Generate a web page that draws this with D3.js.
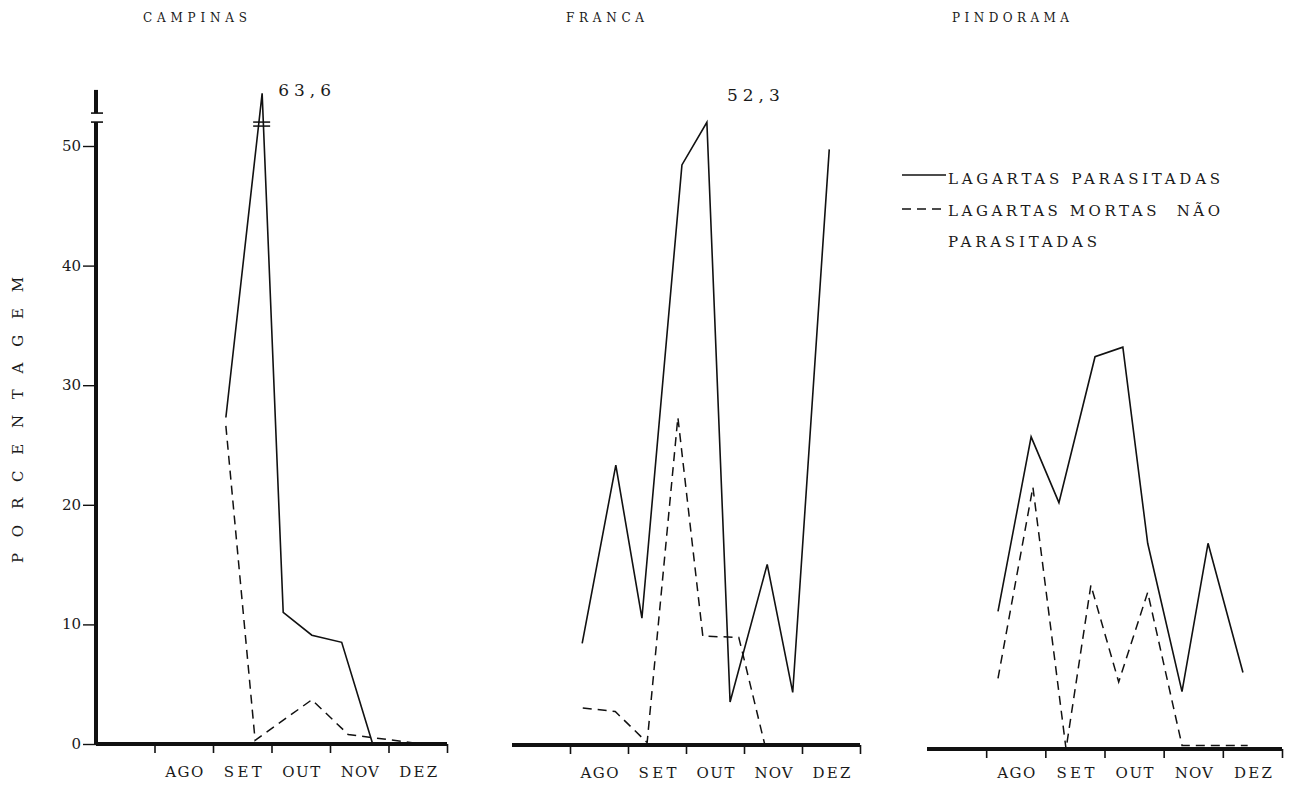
<!DOCTYPE html>
<html>
<head>
<meta charset="utf-8">
<script src="https://cdn.jsdelivr.net/npm/d3@7"></script>
<style>
    body { margin: 0; background: #fff; }
    svg text { font-family: "DejaVu Serif", "Liberation Serif", serif; fill: #1a1a1a; }
</style>
</head>
<body>
<div id="chart"></div>
<script>
// month labels under the axis (first slot has no label)
var months = ["AGO", "SET", "OUT", "NOV", "DEZ"];
var yTicks = [0, 10, 20, 30, 40, 50];

// x = position in month units (0 = start of the axis, 1 = start of AGO)
var campinasParasX = [2.22, 2.84, 3.2, 3.69, 4.2, 4.73];
var campinasParas = [27.3, 63.6, 11.0, 9.1, 8.5, 0];
var campinasMortasX = [2.22, 2.72, 3.69, 4.31, 5.57];
var campinasMortas = [26.6, 0.3, 3.7, 0.8, 0];

var francaParasX = [1.21, 1.79, 2.24, 2.93, 3.36, 3.76, 4.40, 4.84, 5.47];
var francaParas = [8.5, 23.4, 10.6, 48.5, 52.3, 3.6, 15.1, 4.4, 49.8];
var francaMortasX = [1.22, 1.78, 2.33, 2.86, 3.29, 3.91, 4.36];
var francaMortas = [3.1, 2.8, 0.2, 27.4, 9.1, 9.0, 0];

var pindoParasX = [1.20, 1.76, 2.23, 2.84, 3.31, 3.73, 4.31, 4.75, 5.34];
var pindoParas = [11.5, 26.1, 20.6, 32.8, 33.6, 17.2, 4.8, 17.2, 6.4];
var pindoMortasX = [1.20, 1.79, 2.35, 2.77, 3.24, 3.73, 4.31, 5.42];
var pindoMortas = [5.9, 21.9, 0, 13.7, 5.6, 13.1, 0.3, 0.3];

var peakLabels = {"CAMPINAS": "63,6", "FRANCA": "52,3"};
var axisBreak = 52;

var svgWidth = 1290;
var svgHeight = 785;
var pxPerUnit = 11.96;

var svg = d3.select("#chart")
    .append("svg")
    .attr("width", svgWidth)
    .attr("height", svgHeight);

var panels = [
    {name: "CAMPINAS", x0: 96, x1: 447, base: 744, titleX: 143, titleLen: 104,
        parasX: campinasParasX, paras: campinasParas, mortasX: campinasMortasX, mortas: campinasMortas},
    {name: "FRANCA", x0: 512, x1: 860, base: 745, titleX: 566, titleLen: 78,
        parasX: francaParasX, paras: francaParas, mortasX: francaMortasX, mortas: francaMortas},
    {name: "PINDORAMA", x0: 927, x1: 1282, base: 749, titleX: 952, titleLen: 117,
        parasX: pindoParasX, paras: pindoParas, mortasX: pindoMortasX, mortas: pindoMortas}
];

function zip(xs, ys) {
    return xs.map((d, i) => ({x: d, y: ys[i]}));
}

panels.forEach((p) => {
    var g = svg.append("g");

    var xScale = d3.scaleLinear()
        .domain([0, 6])
        .range([p.x0, p.x1]);

    // broken axis: everything above the break is squeezed into the top strip
    var yScale = d3.scaleLinear()
        .domain([0, axisBreak, 63.6])
        .range([p.base, p.base - axisBreak * pxPerUnit, p.base - 54.4 * pxPerUnit]);

    // title
    g.append("text")
        .attr("x", p.titleX)
        .attr("y", 22)
        .attr("textLength", p.titleLen)
        .attr("lengthAdjust", "spacing")
        .style("font-size", "12px")
        .text(p.name);

    // tick marks between months
    var tickAxis = d3.axisBottom(xScale)
        .tickValues([1, 2, 3, 4, 5, 6])
        .tickSize(9)
        .tickFormat("");
    var ticks = g.append("g")
        .attr("transform", `translate(0, ${p.base})`)
        .call(tickAxis);
    ticks.select(".domain").remove();
    ticks.selectAll("line").attr("stroke", "#111").attr("stroke-width", 1.6);

    // month names centred in their slot
    var labelAxis = d3.axisBottom(xScale)
        .tickValues(months.map((d, i) => i + 1.5))
        .tickSize(0)
        .tickFormat((d, i) => months[i]);
    var labels = g.append("g")
        .attr("transform", `translate(0, ${p.base})`)
        .call(labelAxis);
    labels.select(".domain").remove();
    labels.selectAll("text")
        .attr("y", Math.min(33, 778 - p.base))
        .attr("dy", 0)
        .attr("textLength", 38)
        .attr("lengthAdjust", "spacing")
        .style("font-size", "15px")
        .style("font-family", null);

    // thick base line
    g.append("line")
        .attr("x1", p.x0)
        .attr("x2", p.x1)
        .attr("y1", p.base)
        .attr("y2", p.base)
        .attr("stroke", "#111")
        .attr("stroke-width", 4);

    var line = d3.line()
        .x(d => xScale(d.x))
        .y(d => yScale(d.y));

    g.append("path")
        .datum(zip(p.mortasX, p.mortas))
        .attr("d", line)
        .attr("fill", "none")
        .attr("stroke", "#111")
        .attr("stroke-width", 1.5)
        .attr("stroke-dasharray", "9,6");

    g.append("path")
        .datum(zip(p.parasX, p.paras))
        .attr("d", line)
        .attr("fill", "none")
        .attr("stroke", "#111")
        .attr("stroke-width", 1.6);

    // value written at the peak
    if (peakLabels[p.name]) {
        var peak = d3.max(p.paras);
        var i = p.paras.indexOf(peak);
        var offBreak = peak > axisBreak + 2;
        g.append("text")
            .attr("x", xScale(p.parasX[i]) + (offBreak ? 16 : 20))
            .attr("y", yScale(peak) + (offBreak ? 3 : -21))
            .attr("textLength", 53)
            .attr("lengthAdjust", "spacing")
            .style("font-size", "17px")
            .text(peakLabels[p.name]);

        if (offBreak) {
            // break marks across the line
            var bx = xScale(p.parasX[i]);
            [0, 4].forEach((o) => {
                g.append("line")
                    .attr("x1", bx - 9)
                    .attr("x2", bx + 8)
                    .attr("y1", yScale(axisBreak) + o)
                    .attr("y2", yScale(axisBreak) + o)
                    .attr("stroke", "#111")
                    .attr("stroke-width", 1.5);
            });
        }
    }

    if (p.name === "CAMPINAS") {
        // y axis with a break near the top
        var leftAxis = d3.axisLeft(yScale)
            .tickValues(yTicks)
            .tickSize(13)
            .tickPadding(2)
            .tickFormat(d => d);
        var yAxis = g.append("g")
            .attr("transform", `translate(${p.x0}, 0)`)
            .call(leftAxis);
        yAxis.select(".domain").remove();
        yAxis.selectAll("line").attr("stroke", "#111").attr("stroke-width", 1.4);
        yAxis.selectAll("text")
            .style("font-size", "15px")
            .style("font-family", null)
            .attr("dy", "0.3em");

        var yBreak = yScale(axisBreak);
        g.append("line")
            .attr("x1", p.x0).attr("x2", p.x0)
            .attr("y1", p.base).attr("y2", yBreak)
            .attr("stroke", "#111").attr("stroke-width", 4);
        g.append("line")
            .attr("x1", p.x0).attr("x2", p.x0)
            .attr("y1", yBreak - 9).attr("y2", yScale(65))
            .attr("stroke", "#111").attr("stroke-width", 4);
        [0, -9].forEach((o) => {
            g.append("line")
                .attr("x1", p.x0 - 5).attr("x2", p.x0 + 7)
                .attr("y1", yBreak + o).attr("y2", yBreak + o)
                .attr("stroke", "#111").attr("stroke-width", 1.6);
        });
    }
});

// vertical axis title
svg.append("text")
    .attr("transform", "translate(23, 420) rotate(-90)")
    .attr("text-anchor", "middle")
    .attr("textLength", 286)
    .attr("lengthAdjust", "spacing")
    .style("font-size", "15px")
    .text("P O R C E N T A G E M");

// legend
var legend = svg.append("g");
var legendRows = [
    {text: "LAGARTAS PARASITADAS", y: 184, len: 272, dash: null, lineY: 175},
    {text: "LAGARTAS MORTAS  NÃO", y: 216, len: 272, dash: "9,6", lineY: 209},
    {text: "PARASITADAS", y: 247, len: 149, dash: null, lineY: null}
];
legendRows.forEach((r) => {
    if (r.lineY !== null) {
        legend.append("line")
            .attr("x1", 902).attr("x2", 946)
            .attr("y1", r.lineY).attr("y2", r.lineY)
            .attr("stroke", "#111")
            .attr("stroke-width", 1.5)
            .attr("stroke-dasharray", r.dash);
    }
    legend.append("text")
        .attr("x", 948)
        .attr("y", r.y)
        .attr("textLength", r.len)
        .attr("lengthAdjust", "spacing")
        .style("font-size", "15px")
        .style("white-space", "pre")
        .text(r.text);
});
</script>
</body>
</html>
